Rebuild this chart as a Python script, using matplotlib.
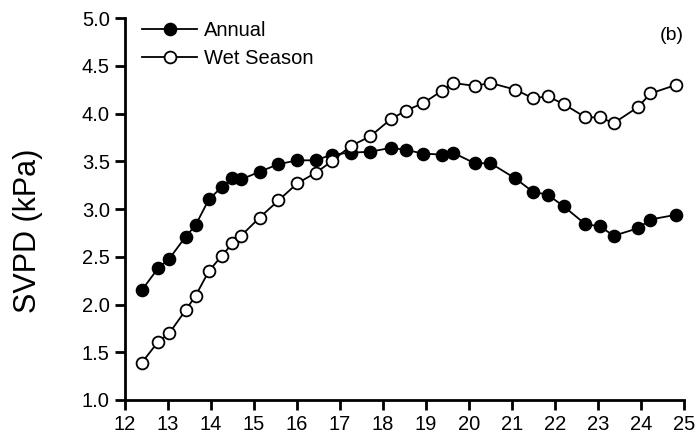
import matplotlib
matplotlib.use("Agg")
import matplotlib.pyplot as plt
import numpy as np

plt.rcParams['font.family'] = ['Liberation Sans', 'DejaVu Sans']

# temperature positions (shared by both series)
temp = [12.39, 12.77, 13.03, 13.41, 13.64, 13.95, 14.25, 14.50, 14.70, 15.13,
        15.57, 16.01, 16.44, 16.81, 17.25, 17.70, 18.18, 18.53, 18.94, 19.38,
        19.63, 20.13, 20.50, 21.08, 21.49, 21.83, 22.20, 22.71, 23.04, 23.37,
        23.94, 24.22, 24.82]

annual = [2.15, 2.38, 2.48, 2.71, 2.83, 3.10, 3.23, 3.32, 3.31, 3.39,
          3.47, 3.51, 3.51, 3.57, 3.59, 3.60, 3.64, 3.62, 3.58, 3.57,
          3.59, 3.48, 3.48, 3.32, 3.18, 3.15, 3.03, 2.84, 2.82, 2.72,
          2.80, 2.89, 2.94]

wet_season = [1.39, 1.61, 1.70, 1.94, 2.09, 2.35, 2.51, 2.64, 2.72, 2.91,
              3.09, 3.27, 3.38, 3.50, 3.66, 3.76, 3.94, 4.03, 4.11, 4.24,
              4.32, 4.29, 4.32, 4.25, 4.16, 4.18, 4.10, 3.96, 3.96, 3.90,
              4.07, 4.21, 4.30]

xticks = list(range(12, 26))
yticks = [1.0, 1.5, 2.0, 2.5, 3.0, 3.5, 4.0, 4.5, 5.0]

fig = plt.figure(figsize=(7, 4.36), dpi=100)
ax = fig.add_axes([0.1786, 0.0826, 0.7984, 0.876])

ax.plot(temp, annual, color="black", lw=1.3, marker="o", ms=8.5,
        mfc="black", mec="black", mew=1.3, label="Annual", clip_on=False)
ax.plot(temp, wet_season, color="black", lw=1.3, marker="o", ms=8.5,
        mfc="white", mec="black", mew=1.3, label="Wet Season", clip_on=False)

ax.set_xlim(12, 25)
ax.set_ylim(1.0, 5.0)
ax.set_xticks(xticks)
ax.set_yticks(yticks)
ax.set_yticklabels([f"{v:.1f}" for v in yticks])

for s in ["top", "right"]:
    ax.spines[s].set_visible(False)
for s in ["left", "bottom"]:
    ax.spines[s].set_linewidth(2)
ax.tick_params(direction="out", length=7, width=2, labelsize=14.5, pad=4)

# y label sits a bit below the axes centre in the original
fig.text(28 / 700, 1 - 231 / 436, "SVPD (kPa)", rotation=90, ha="center",
         va="center", fontsize=22)

fig.text(0.977, 1 - 35 / 436, "(b)", ha="right", va="center", fontsize=14)

ax.legend(loc="upper left", bbox_to_anchor=(0.203, 0.952),
          bbox_transform=fig.transFigure, frameon=False, fontsize=14.5,
          handlelength=2.75, handletextpad=0.3, labelspacing=0.45,
          borderpad=0, borderaxespad=0)

plt.savefig("out.png", dpi=100)
